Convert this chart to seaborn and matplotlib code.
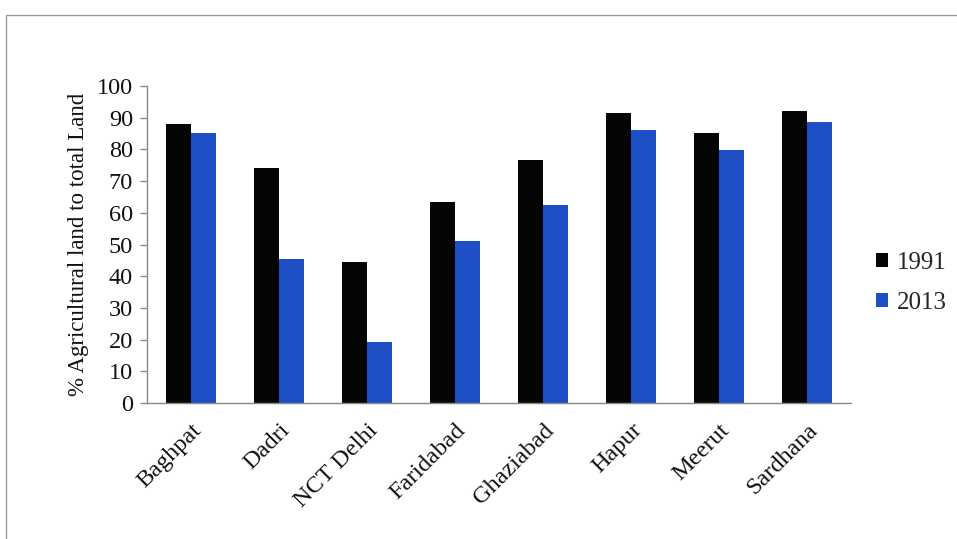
import matplotlib
matplotlib.use("Agg")
import matplotlib.pyplot as plt
from matplotlib.patches import Rectangle, Patch
import seaborn as sns
import pandas as pd

# Share of agricultural land in total land, by location
locations = ["Baghpat", "Dadri", "NCT Delhi", "Faridabad", "Ghaziabad", "Hapur", "Meerut", "Sardhana"]
years = ["1991", "2013"]
values_1991 = [88.1, 74.0, 44.4, 63.4, 76.7, 91.6, 85.3, 92.0]
values_2013 = [85.2, 45.5, 19.2, 51.1, 62.5, 86.1, 79.9, 88.5]
yticks = list(range(0, 101, 10))

colors = {"1991": "#050505", "2013": "#1f4fc4"}

df = pd.DataFrame({
    "Location": locations * 2,
    "Year": [years[0]] * len(locations) + [years[1]] * len(locations),
    "Value": values_1991 + values_2013,
})

sns.set_theme(style="white")
plt.rcParams["font.family"] = ["Liberation Serif", "DejaVu Serif"]

fig = plt.figure(figsize=(9.57, 5.39), dpi=100)
ax = fig.add_axes([0.1536, 0.2523, 0.736, 0.5881])

sns.barplot(data=df, x="Location", y="Value", hue="Year", order=locations,
            hue_order=years, palette=colors, width=0.57, gap=0,
            saturation=1, linewidth=0, legend=False, ax=ax)

ax.set_ylim(0, 100)
ax.set_yticks(yticks)
ax.set_yticklabels([str(t) for t in yticks], fontsize=17.5, color="#111111")
ax.set_xlim(-0.5, len(locations) - 0.5)
ax.set_xlabel("")
ax.set_ylabel("% Agricultural land to total Land", fontsize=16.5, color="#111111", labelpad=6)
ax.set_xticks(range(len(locations)))
ax.set_xticklabels(locations, rotation=45, ha="right", rotation_mode="anchor",
                   fontsize=17.5, color="#111111")

for side in ("top", "right"):
    ax.spines[side].set_visible(False)
for side in ("left", "bottom"):
    ax.spines[side].set_color("#8a8a8a")
    ax.spines[side].set_linewidth(1.0)
ax.tick_params(axis="y", which="major", left=True, length=5, width=1, color="#8a8a8a", pad=5)
ax.tick_params(axis="x", which="major", bottom=False, pad=6)

handles = [Patch(facecolor=colors[y], edgecolor="none") for y in years]
fig.legend(handles, years, loc="center left", bbox_to_anchor=(0.915, 0.475),
           frameon=False, fontsize=18, handlelength=0.5, handleheight=0.5,
           handletextpad=0.35, labelspacing=0.7, borderpad=0, borderaxespad=0)

# Outer frame around the chart area
fig.patches.append(Rectangle((0.006, -0.02), 1.2, 0.992, transform=fig.transFigure,
                             fill=False, edgecolor="#9a9a9a", linewidth=1.0))

fig.savefig("out.png", dpi=100, facecolor="white")
